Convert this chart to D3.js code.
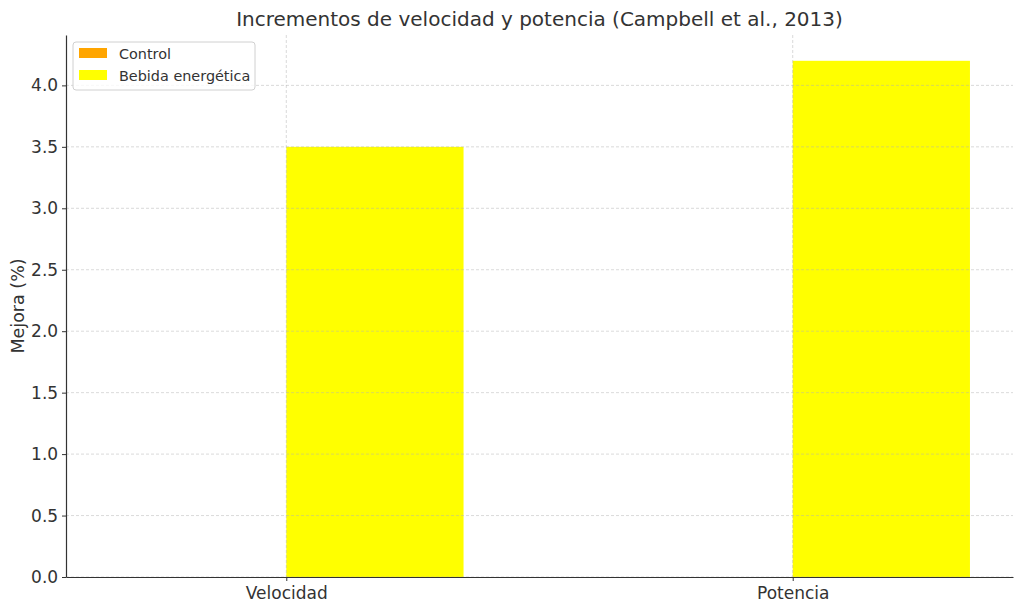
<!DOCTYPE html>
<html>
<head>
<meta charset="utf-8">
<script src="https://cdn.jsdelivr.net/npm/d3@7"></script>
<style>
  body { margin: 0; background: #fff; }
  text { font-family: "DejaVu Sans", sans-serif; fill: #333; }
</style>
</head>
<body>
<div id="chart"></div>
<script>
const categories = ['Velocidad', 'Potencia'];
const seriesNames = ['Control', 'Bebida energética'];
const controlValues = [0, 0];
const drinkValues = [3.5, 4.2];
const yTicks = [0, 0.5, 1.0, 1.5, 2.0, 2.5, 3.0, 3.5, 4.0];
const colors = ['#FFA500', '#FFFF00'];

const width = 1024;
const height = 610;
const margin = { top: 35, right: 11, bottom: 33, left: 66 };
const barWidth = 0.35;

const svg = d3.select('#chart')
  .append('svg')
  .attr('width', width)
  .attr('height', height);

// numeric x scale like matplotlib (category index), with 5% margins
const xMin = -barWidth, xMax = categories.length - 1 + barWidth;
const pad = (xMax - xMin) * 0.05;
const x = d3.scaleLinear()
  .domain([xMin - pad, xMax + pad])
  .range([margin.left, width - margin.right]);

const yMax = d3.max(drinkValues.concat(controlValues)) * 1.05;
const y = d3.scaleLinear()
  .domain([0, yMax])
  .range([height - margin.bottom, margin.top]);

// bars
const series = [controlValues, drinkValues];
series.forEach((vals, s) => {
  svg.append('g')
    .selectAll('rect')
    .data(vals)
    .join('rect')
    .attr('x', (d, i) => x(s === 0 ? i - barWidth : i))
    .attr('width', x(barWidth) - x(0))
    .attr('y', d => y(d))
    .attr('height', d => y(0) - y(d))
    .attr('fill', colors[s]);
});

// grid (drawn above bars, like matplotlib default)
const grid = svg.append('g')
  .attr('stroke', '#b0b0b0')
  .attr('stroke-opacity', 0.6)
  .attr('stroke-width', 0.8)
  .attr('stroke-dasharray', '3,2');

grid.selectAll('.hgrid')
  .data(yTicks)
  .join('line')
  .attr('x1', margin.left)
  .attr('x2', width - margin.right)
  .attr('y1', d => y(d))
  .attr('y2', d => y(d));

grid.selectAll('.vgrid')
  .data(categories)
  .join('line')
  .attr('x1', (d, i) => x(i))
  .attr('x2', (d, i) => x(i))
  .attr('y1', margin.top)
  .attr('y2', height - margin.bottom);

// axes
const xAxis = svg.append('g')
  .attr('transform', `translate(0,${height - margin.bottom})`)
  .call(d3.axisBottom(x)
    .tickValues(d3.range(categories.length))
    .tickFormat(i => categories[i])
    .tickSize(4)
    .tickSizeOuter(0));

const yAxis = svg.append('g')
  .attr('transform', `translate(${margin.left},0)`)
  .call(d3.axisLeft(y)
    .tickValues(yTicks)
    .tickFormat(d3.format('.1f'))
    .tickSize(4)
    .tickSizeOuter(0));

[xAxis, yAxis].forEach(ax => {
  ax.select('.domain').attr('stroke', '#333').attr('stroke-width', 1.2);
  ax.selectAll('.tick line').attr('stroke', '#333');
  ax.selectAll('.tick text')
    .style('font-size', '17px')
    .attr('fill', '#262626');
});
xAxis.selectAll('.tick text').attr('dy', '0.9em');
yAxis.selectAll('.tick text').attr('dx', '-0.05em');

// labels
svg.append('text')
  .attr('x', (margin.left + width - margin.right) / 2)
  .attr('y', 26)
  .attr('text-anchor', 'middle')
  .style('font-size', '20px')
  .text('Incrementos de velocidad y potencia (Campbell et al., 2013)');

svg.append('text')
  .attr('transform', `translate(24,${(margin.top + height - margin.bottom) / 2}) rotate(-90)`)
  .attr('text-anchor', 'middle')
  .style('font-size', '17.5px')
  .text('Mejora (%)');

// legend
const legend = svg.append('g').attr('transform', 'translate(73,42)');
legend.append('rect')
  .attr('width', 182)
  .attr('height', 48)
  .attr('rx', 3)
  .attr('fill', 'white')
  .attr('fill-opacity', 0.8)
  .attr('stroke', '#d0d0d0');

legend.selectAll('.sw')
  .data(seriesNames)
  .join('rect')
  .attr('x', 6)
  .attr('y', (d, i) => 6 + i * 22)
  .attr('width', 28)
  .attr('height', 10)
  .attr('fill', (d, i) => colors[i]);

legend.selectAll('.lab')
  .data(seriesNames)
  .join('text')
  .attr('x', 46)
  .attr('y', (d, i) => 16.5 + i * 22)
  .style('font-size', '14.4px')
  .text(d => d);
</script>
</body>
</html>
